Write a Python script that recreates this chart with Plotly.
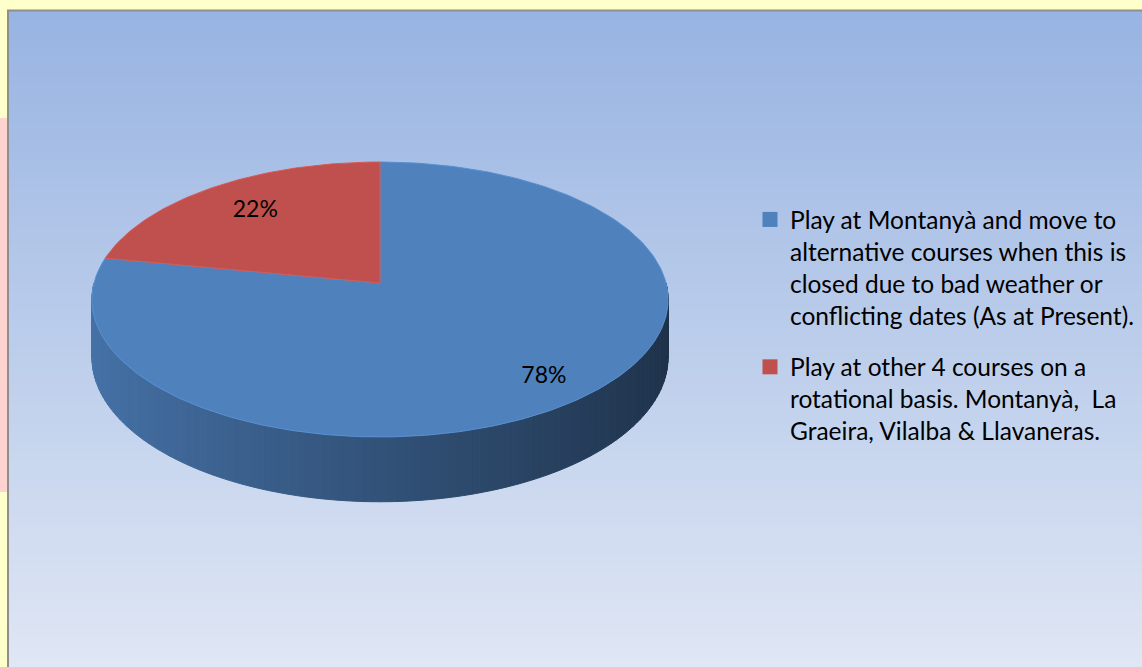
import numpy as np
import plotly.graph_objects as go

# ---------------- data ----------------
categories = [
    "Play at Montanyà and move to<br>alternative courses when this is<br>closed due to bad weather or<br>conflicting dates (As at Present).",
    "Play at other 4 courses on a<br>rotational basis. Montanyà,  La<br>Graeira, Vilalba & Llavaneras.",
]
values = [78, 22]
slice_colors = ["#4F81BD", "#C0504D"]

# ---------------- geometry / style constants (pixel space) ----------------
W, H = 1142, 667
CX, CY = 380.0, 283.0      # pie centre (vertex) in pixel space
RX, RY = 286.0, 135.5      # horizontal / depth radii
K = -0.12                  # perspective strength
T = 57.0                   # thickness of the 3D wall
LABEL_R = [0.83, 0.73]     # radial position of data labels
N_STRIP_DEG = 1.5          # wall strip width (degrees)


def proj(r, alpha):
    u = r * np.sin(alpha)
    w = -r * np.cos(alpha)
    s = 1.0 / (1.0 + K * w)
    return CX + RX * u * s, CY + RY * w * s, s


def hex_to_rgb(h):
    h = h.lstrip("#")
    return tuple(int(h[i:i + 2], 16) for i in (0, 2, 4))


def shade(hexcol, f):
    r, g, b = hex_to_rgb(hexcol)
    return "rgb(%d,%d,%d)" % (min(255, r * f), min(255, g * f), min(255, b * f))


fig = go.Figure()

total = float(sum(values))
fracs = [v / total for v in values]
starts = np.cumsum([0] + fracs[:-1]) * 2 * np.pi
ends = starts + np.array(fracs) * 2 * np.pi

# ---------------- 3D wall (front half only) ----------------
front_lo, front_hi = np.pi / 2, 3 * np.pi / 2
for i, (a0, a1) in enumerate(zip(starts, ends)):
    lo, hi = max(a0, front_lo), min(a1, front_hi)
    if hi <= lo:
        continue
    n = max(2, int(np.degrees(hi - lo) / N_STRIP_DEG))
    edges = np.linspace(lo, hi, n + 1)
    for j in range(n):
        aa = np.linspace(edges[j], edges[j + 1], 3)
        xt, yt, s = proj(1.0, aa)
        yb = yt + T * s
        xs = list(xt) + list(xt[::-1]) + [xt[0]]
        ys = list(yt) + list(yb[::-1]) + [yt[0]]
        um = np.sin(aa.mean())
        f = 0.64 - 0.25 * um
        col = shade(slice_colors[i], f)
        fig.add_trace(go.Scatter(
            x=xs, y=ys, mode="lines", fill="toself", fillcolor=col,
            line=dict(color=col, width=1), hoverinfo="skip", showlegend=False))

# ---------------- top faces ----------------
for i, (a0, a1) in enumerate(zip(starts, ends)):
    aa = np.linspace(a0, a1, max(8, int(np.degrees(a1 - a0))))
    xa, ya, _ = proj(1.0, aa)
    xs = [CX] + list(xa) + [CX]
    ys = [CY] + list(ya) + [CY]
    fig.add_trace(go.Scatter(
        x=xs, y=ys, mode="lines", fill="toself", fillcolor=slice_colors[i],
        line=dict(color=shade(slice_colors[i], 1.12), width=1),
        hoverinfo="skip", showlegend=False))

# ---------------- data labels ----------------
lx, ly, lt = [], [], []
for i, (a0, a1) in enumerate(zip(starts, ends)):
    am = (a0 + a1) / 2
    x, y, _ = proj(LABEL_R[i], am)
    lx.append(x)
    ly.append(y)
    lt.append("%d%%" % round(fracs[i] * 100))
fig.add_trace(go.Scatter(
    x=lx, y=ly, mode="text", text=lt,
    textfont=dict(family="Lato", size=23, color="black"),
    hoverinfo="skip", showlegend=False))

# ---------------- legend entries ----------------
for i, name in enumerate(categories):
    fig.add_trace(go.Scatter(
        x=[None], y=[None], mode="markers", name=name,
        legendgroup="g%d" % i,
        marker=dict(symbol="square", size=15, color=slice_colors[i])))

# ---------------- background (gradient panel, border, outer frame) ----------------
shapes = []
top_rgb = np.array([152, 180, 226])
bot_rgb = np.array([224, 231, 245])
y0, y1 = 10.0, float(H)
nb = 70
for b in range(nb):
    ya = y0 + (y1 - y0) * b / nb
    yb = y0 + (y1 - y0) * (b + 1) / nb + 0.8
    t = (b + 0.5) / nb
    c = top_rgb + (bot_rgb - top_rgb) * t
    shapes.append(dict(type="rect", xref="x", yref="y", x0=8, x1=W, y0=ya, y1=yb,
                       fillcolor="rgb(%d,%d,%d)" % tuple(c), line=dict(width=0),
                       layer="below"))
# pink strip on the left edge
shapes.append(dict(type="rect", xref="x", yref="y", x0=0, x1=7, y0=118, y1=492,
                   fillcolor="#FFD3CF", line=dict(width=0), layer="below"))
# grey border
shapes.append(dict(type="path", xref="x", yref="y",
                   path="M 8,%d L 8,10.5 L %d,10.5" % (H, W),
                   line=dict(color="#8E8E8E", width=2), layer="below"))

fig.update_layout(
    width=W, height=H, autosize=False,
    margin=dict(l=0, r=0, t=0, b=0),
    paper_bgcolor="#FFFFCC", plot_bgcolor="#FFFFCC",
    shapes=shapes,
    xaxis=dict(range=[0, W], visible=False, fixedrange=True),
    yaxis=dict(range=[H, 0], visible=False, fixedrange=True),
    showlegend=True,
    legend=dict(
        x=750 / W, xanchor="left", y=1 - 197 / H, yanchor="top",
        bgcolor="rgba(0,0,0,0)", borderwidth=0,
        font=dict(family="Lato", size=24.5, color="black"),
        valign="top", tracegroupgap=17, traceorder="grouped",
    ),
    hovermode=False,
)

fig.write_html(
    "out.html",
    config={"displayModeBar": False, "staticPlot": False},
    post_script="document.body.style.margin='0px';document.body.style.padding='0px';",
)
